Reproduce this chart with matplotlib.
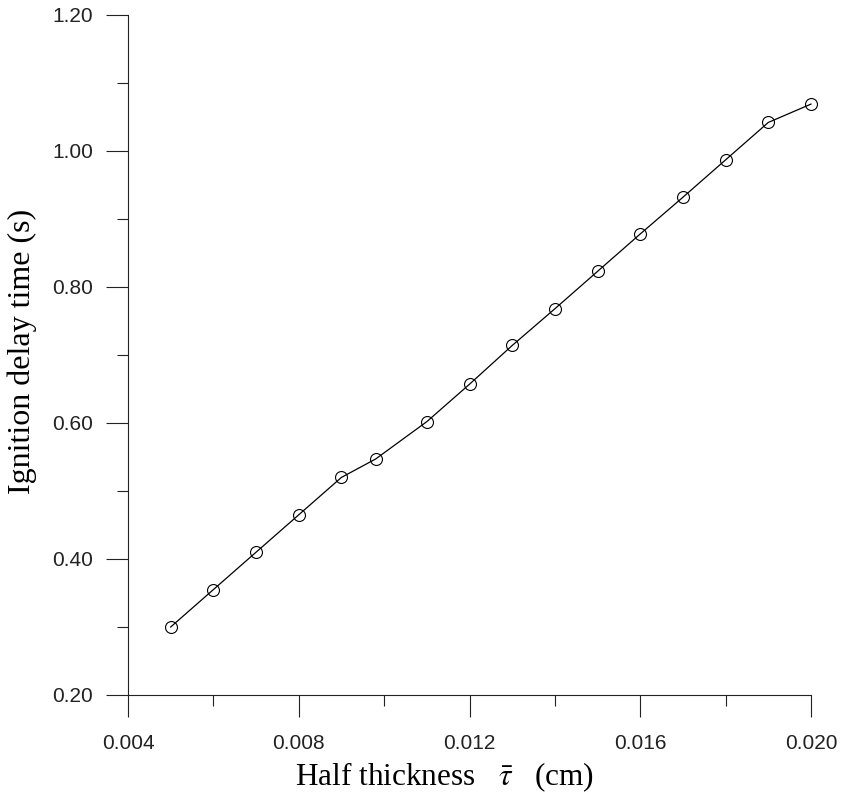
import matplotlib
matplotlib.use("Agg")
import matplotlib.pyplot as plt
from matplotlib.ticker import MultipleLocator, FormatStrFormatter

# Data
half_thickness = [0.005, 0.006, 0.007, 0.008, 0.009, 0.0098, 0.011, 0.012,
                  0.013, 0.014, 0.015, 0.016, 0.017, 0.018, 0.019, 0.020]
delay_time = [0.300, 0.355, 0.410, 0.465, 0.520, 0.547, 0.602, 0.657,
              0.714, 0.768, 0.823, 0.878, 0.932, 0.987, 1.042, 1.069]

x_ticks = [0.004, 0.008, 0.012, 0.016, 0.020]
y_ticks = [0.20, 0.40, 0.60, 0.80, 1.00, 1.20]

plt.rcParams['mathtext.fontset'] = 'stix'

fig = plt.figure(figsize=(8.42, 7.95), dpi=100)
ax = fig.add_axes([128 / 842, 1 - 695 / 795, (811 - 128) / 842, (695 - 15) / 795])

ax.plot(half_thickness, delay_time, color='black', linewidth=0.9,
        marker='o', markersize=8.6, markerfacecolor='none',
        markeredgecolor='black', markeredgewidth=0.8, clip_on=False)

ax.set_xlim(0.004, 0.020)
ax.set_ylim(0.20, 1.20)
ax.set_xticks(x_ticks)
ax.set_yticks(y_ticks)
ax.xaxis.set_minor_locator(MultipleLocator(0.002))
ax.yaxis.set_minor_locator(MultipleLocator(0.1))
ax.xaxis.set_major_formatter(FormatStrFormatter('%.3f'))
ax.yaxis.set_major_formatter(FormatStrFormatter('%.2f'))

for side in ['top', 'right']:
    ax.spines[side].set_visible(False)
for side in ['left', 'bottom']:
    ax.spines[side].set_linewidth(0.8)
    ax.spines[side].set_color('#222222')

ax.tick_params(which='major', direction='out', length=16, width=0.8,
               color='#222222', labelsize=15, labelcolor='#222222')
ax.tick_params(which='minor', direction='out', length=8, width=0.8,
               color='#222222')
ax.tick_params(axis='x', which='major', pad=12)
ax.tick_params(axis='y', which='major', pad=9)
for lab in ax.get_xticklabels() + ax.get_yticklabels():
    lab.set_fontfamily('Liberation Sans')

ax.set_xlabel(r'Half thickness   $\bar{\tau}$   (cm)', fontsize=22.5,
              fontfamily='Liberation Serif')
ax.xaxis.set_label_coords(0.463, -0.096)
ax.set_ylabel('Ignition delay time (s)', fontsize=23,
              fontfamily='Liberation Serif')
ax.yaxis.set_label_coords(-0.133, 0.505)

fig.savefig('out.png', dpi=100)
